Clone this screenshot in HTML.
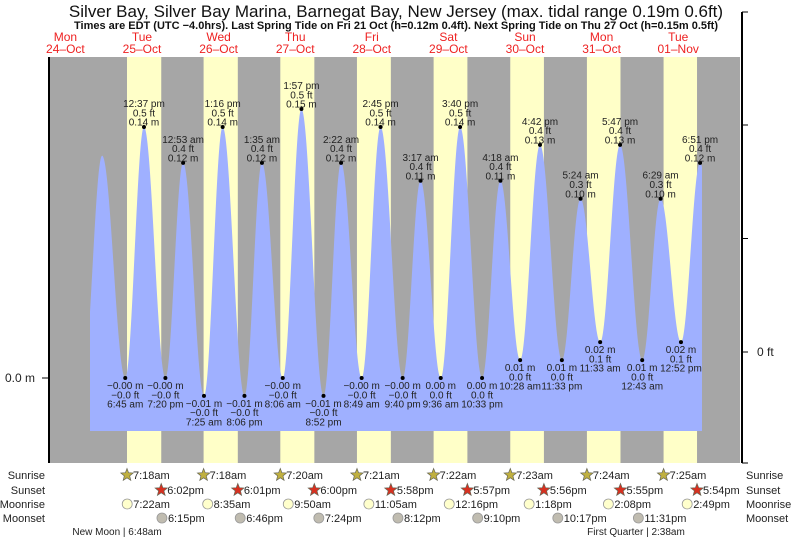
<!DOCTYPE html>
<html><head><meta charset="utf-8">
<style>
body{margin:0;background:#fff;}
svg{display:block;font-family:"Liberation Sans",sans-serif;}
</style></head>
<body>
<svg id="chart" width="793" height="539" viewBox="0 0 793 539" xmlns="http://www.w3.org/2000/svg">
<text x="396" y="17" text-anchor="middle" font-size="17" fill="#111">Silver Bay, Silver Bay Marina, Barnegat Bay, New Jersey (max. tidal range 0.19m 0.6ft)</text>
<text x="396" y="29" text-anchor="middle" font-size="11" font-weight="bold" fill="#111">Times are EDT (UTC −4.0hrs). Last Spring Tide on Fri 21 Oct (h=0.12m 0.4ft). Next Spring Tide on Thu 27 Oct (h=0.15m 0.5ft)</text>
<g id="bands"></g>
<g id="water"></g>
<g id="marks"></g>
<g id="axes"></g>
<g id="bottom"></g>
</svg>
<script>
// ---- data ----
const dayNames = ["Mon","Tue","Wed","Thu","Fri","Sat","Sun","Mon","Tue"];
const dayDates = ["24\u2013Oct","25\u2013Oct","26\u2013Oct","27\u2013Oct","28\u2013Oct","29\u2013Oct","30\u2013Oct","31\u2013Oct","01\u2013Nov"];
// hours since Tue 25 Oct 00:00
const tideHours = [-6.5,-0.5,6.75,12.62,19.33,24.88,31.42,37.27,44.1,49.58,56.1,61.95,68.87,74.37,80.82,86.75,93.67,99.28,105.6,111.67,118.55,124.3,130.47,136.7,143.55,149.4,155.55,161.78,168.72,174.48,180.87,186.85,193];
const tideHeights = [0.0,0.124,0.0,0.14,0.0,0.12,-0.01,0.14,-0.01,0.12,0.0,0.15,-0.01,0.12,0.0,0.14,0.0,0.11,0.0,0.14,0.0,0.11,0.01,0.13,0.01,0.10,0.02,0.13,0.01,0.10,0.02,0.12,0.02];
const tideLabelM = ["","","\u22120.00 m","0.14 m","\u22120.00 m","0.12 m","\u22120.01 m","0.14 m","\u22120.01 m","0.12 m","\u22120.00 m","0.15 m","\u22120.01 m","0.12 m","\u22120.00 m","0.14 m","\u22120.00 m","0.11 m","0.00 m","0.14 m","0.00 m","0.11 m","0.01 m","0.13 m","0.01 m","0.10 m","0.02 m","0.13 m","0.01 m","0.10 m","0.02 m","0.12 m",""];
const tideLabelFt = ["","","\u22120.0 ft","0.5 ft","\u22120.0 ft","0.4 ft","\u22120.0 ft","0.5 ft","\u22120.0 ft","0.4 ft","\u22120.0 ft","0.5 ft","\u22120.0 ft","0.4 ft","\u22120.0 ft","0.5 ft","\u22120.0 ft","0.4 ft","0.0 ft","0.5 ft","0.0 ft","0.4 ft","0.0 ft","0.4 ft","0.0 ft","0.3 ft","0.1 ft","0.4 ft","0.0 ft","0.3 ft","0.1 ft","0.4 ft",""];
const tideLabelTime = ["","","6:45 am","12:37 pm","7:20 pm","12:53 am","7:25 am","1:16 pm","8:06 pm","1:35 am","8:06 am","1:57 pm","8:52 pm","2:22 am","8:49 am","2:45 pm","9:40 pm","3:17 am","9:36 am","3:40 pm","10:33 pm","4:18 am","10:28 am","4:42 pm","11:33 pm","5:24 am","11:33 am","5:47 pm","12:43 am","6:29 am","12:52 pm","6:51 pm",""];
const sunriseH = [7.30,7.30,7.33,7.35,7.37,7.38,7.40,7.42,7.43];
const sunsetH = [18.03,18.02,18.00,17.97,17.95,17.93,17.92,17.90];
const sunriseLbl = ["7:18am","7:18am","7:20am","7:21am","7:22am","7:23am","7:24am","7:25am"];
const sunsetLbl = ["6:02pm","6:01pm","6:00pm","5:58pm","5:57pm","5:56pm","5:55pm","5:54pm"];
const moonriseH = [7.37,8.58,9.83,11.08,12.27,13.30,14.13,14.82];
const moonriseLbl = ["7:22am","8:35am","9:50am","11:05am","12:16pm","1:18pm","2:08pm","2:49pm"];
const moonsetH = [18.25,18.77,19.40,20.20,21.17,22.28,23.52];
const moonsetLbl = ["6:15pm","6:46pm","7:24pm","8:12pm","9:10pm","10:17pm","11:31pm"];

// ---- scales ----
const X0=103.7, DAYW=76.6, PL=49, PR=740, PT=57, PB=463, WB=431;
const x = h => X0 + h/24*DAYW;
const y = m => 378 - m*1793;
const NS="http://www.w3.org/2000/svg";
function mk(tag, parent, attrs){const e=document.createElementNS(NS,tag);for(const k in attrs)e.setAttribute(k,attrs[k]);parent.appendChild(e);return e;}
const bands=document.getElementById('bands'), water=document.getElementById('water'), marks=document.getElementById('marks'), axes=document.getElementById('axes'), bottom=document.getElementById('bottom');

// background
const bg=mk('rect',bands,{x:PL,y:PT,width:PR-PL,height:PB-PT,fill:'#a6a6a6'});


for(let d=0; d<sunriseH.length; d++){
  const a=x(d*24+sunriseH[d]);
  const b=d<sunsetH.length? x(d*24+sunsetH[d]) : PR;
  const r=mk('rect',bands,{x:a,y:PT,width:Math.min(b,PR)-a,height:PB-PT,fill:'#ffffc8'});
  
  
}
// day labels
for(let i=0;i<dayNames.length;i++){
  const cx=x((i-1)*24+12);
  const t1=mk('text',axes,{x:cx,y:41,'text-anchor':'middle','font-size':12,fill:'#ee2222'});t1.textContent=dayNames[i];
  
  
  const t2=mk('text',axes,{x:cx,y:53,'text-anchor':'middle','font-size':12,fill:'#ee2222'});t2.textContent=dayDates[i];
  
  
}

// water curve
const xs=90, xe=702;
let pts=[];
for(let px=xs; px<=xe; px+=0.5){
  const h=(px-X0)/DAYW*24;
  let i=0; while(i<tideHours.length-2 && tideHours[i+1]<h) i++;
  const t1=tideHours[i], t2=tideHours[i+1], h1=tideHeights[i], h2=tideHeights[i+1];
  const f=Math.max(0,Math.min(1,(h-t1)/(t2-t1)));
  const u=(1-Math.cos(Math.PI*f))/2;
  pts.push(px.toFixed(1)+','+y(h1+(h2-h1)*u).toFixed(1));
}
const wp=mk('path',water,{d:'M'+xs+','+WB+' L'+pts.join(' L')+' L'+xe+','+WB+' Z',fill:'#9fb0ff'});



// extreme markers and labels
for(let i=2;i<tideHours.length-1;i++){
  const cx=x(tideHours[i]), cy=y(tideHeights[i]);
  const dot=mk('circle',marks,{cx:cx,cy:cy,r:2,fill:'#000'});
  
  
  const high=tideHeights[i]>0.05;
  const lines= high? [tideLabelTime[i],tideLabelFt[i],tideLabelM[i]] : [tideLabelM[i],tideLabelFt[i],tideLabelTime[i]];
  const base= high? cy-20 : cy+11;
  lines.forEach((s,j)=>{
    const t=mk('text',marks,{x:cx,y:base+j*9.3,'text-anchor':'middle','font-size':10,fill:'#222'});t.textContent=s;
    
    
  });
}

// axes
const la=mk('line',axes,{x1:PL,y1:PT,x2:PL,y2:PB,stroke:'#000','stroke-width':2});


mk('line',axes,{x1:42,y1:378,x2:PL,y2:378,stroke:'#000'});
const ml=mk('text',axes,{x:35,y:382,'text-anchor':'end','font-size':12,fill:'#222'});ml.textContent='0.0 m';


const ra=mk('line',axes,{x1:742,y1:12,x2:742,y2:PB,stroke:'#000','stroke-width':2});


[12,125,238.5,352,463].forEach(v=>mk('line',axes,{x1:742,y1:v,x2:748,y2:v,stroke:'#000'}));
const fl=mk('text',axes,{x:757,y:356,'font-size':12,fill:'#222'});fl.textContent='0 ft';



// bottom rows
const rowY=[475,490,504,518];
const rowNames=["Sunrise","Sunset","Moonrise","Moonset"];
rowNames.forEach((n,i)=>{
  const a=mk('text',bottom,{x:45,y:rowY[i]+4,'text-anchor':'end','font-size':11,fill:'#222'});a.textContent=n;
  
  
  const b=mk('text',bottom,{x:746,y:rowY[i]+4,'font-size':11,fill:'#222'});b.textContent=n;
  
  
});
function star(cx,cy,fill){
  let p=[];for(let k=0;k<10;k++){const r=k%2?2.8:6.5;const a=-Math.PI/2+k*Math.PI/5;p.push((cx+r*Math.cos(a)).toFixed(1)+','+(cy+r*Math.sin(a)).toFixed(1));}
  return mk('polygon',bottom,{points:p.join(' '),fill:fill,stroke:'#665',"stroke-width":0.7});
}
function item(h,row,label,kind){
  const cx=x(h), cy=rowY[row];
  let ic;
  if(kind==='rise') ic=star(cx,cy,'#c0b040');
  else if(kind==='set') ic=star(cx,cy,'#d83020');
  else ic=mk('circle',bottom,{cx:cx,cy:cy,r:5,fill:kind==='mrise'?'#ffffcc':'#c0bcb0',stroke:'#999','stroke-width':0.8});
  
  
  const t=mk('text',bottom,{x:cx+6,y:cy+4,'font-size':11,fill:'#222'});t.textContent=label;
  
  
}
for(let d=0;d<sunriseLbl.length;d++) item(d*24+sunriseH[d],0,sunriseLbl[d],'rise');
for(let d=0;d<sunsetLbl.length;d++) item(d*24+sunsetH[d],1,sunsetLbl[d],'set');
for(let d=0;d<moonriseLbl.length;d++) item(d*24+moonriseH[d],2,moonriseLbl[d],'mrise');
for(let d=0;d<moonsetLbl.length;d++) item(d*24+moonsetH[d],3,moonsetLbl[d],'mset');
const nm=mk('text',bottom,{x:117,y:535,'text-anchor':'middle','font-size':10,fill:'#222'});nm.textContent='New Moon | 6:48am';


const fq=mk('text',bottom,{x:636,y:535,'text-anchor':'middle','font-size':10,fill:'#222'});fq.textContent='First Quarter | 2:38am';


</script>
</body></html>
